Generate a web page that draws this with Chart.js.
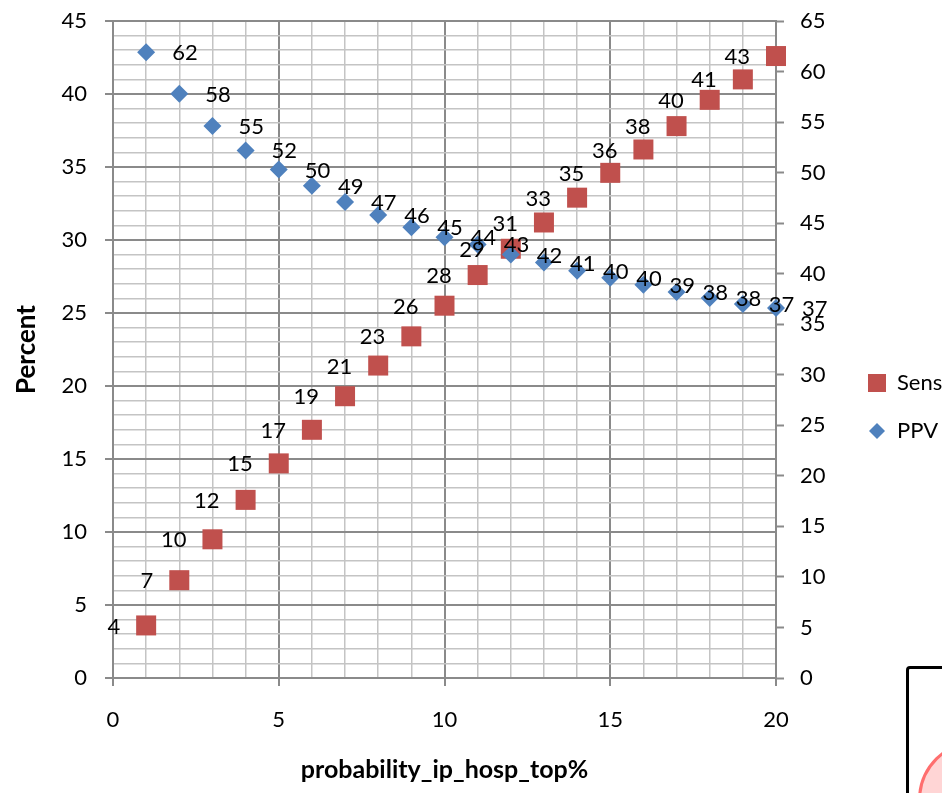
<!DOCTYPE html>
<html>
<head>
<meta charset="utf-8">
<script src="https://cdn.jsdelivr.net/npm/chart.js@4.4.1/dist/chart.umd.min.js"></script>
<style>
  html, body { margin: 0; padding: 0; background: #fff; overflow: hidden; }
  #wrap { position: relative; width: 942px; height: 793px; overflow: hidden; }
  #chart { display: block; }
  #box { position: absolute; left: 906px; top: 666px; width: 80px; height: 200px; border: 3px solid #000; border-radius: 4px; background: #fff; }
  #circle { position: absolute; left: 918px; top: 740px; width: 114px; height: 114px; border-radius: 50%; border: 3px solid #ff6e6e; background: #ffd5d5; }
</style>
</head>
<body>
<div id="wrap">
  <canvas id="chart" width="942" height="793"></canvas>
  <div id="box"></div>
  <div id="circle"></div>
</div>
<script>
// x positions (probability_ip_hosp_top%)
const xValues = [1, 2, 3, 4, 5, 6, 7, 8, 9, 10, 11, 12, 13, 14, 15, 16, 17, 18, 19, 20];
// Sens on the left axis, PPV on the right axis
const sensValues = [3.6, 6.7, 9.5, 12.2, 14.7, 17.0, 19.3, 21.4, 23.4, 25.5, 27.6, 29.4, 31.2, 32.9, 34.6, 36.2, 37.8, 39.6, 41.0, 42.6];
const ppvValues = [61.9, 57.8, 54.6, 52.2, 50.3, 48.7, 47.1, 45.8, 44.6, 43.6, 42.9, 41.9, 41.1, 40.3, 39.6, 38.9, 38.2, 37.6, 37.0, 36.6];

const xTickLabels = [0, 5, 10, 15, 20];
const leftTickLabels = [0, 5, 10, 15, 20, 25, 30, 35, 40, 45];
const rightTickLabels = [0, 5, 10, 15, 20, 25, 30, 35, 40, 45, 50, 55, 60, 65];

const FONT = 'Lato, "Open Sans", sans-serif';
const SENS_COLOR = '#C0504D';
const PPV_COLOR = '#4F81BD';
const MAJOR = '#8a8a8a';
const MINOR = '#c4c4c4';

Chart.defaults.font.family = FONT;
Chart.defaults.font.size = 22;
Chart.defaults.color = '#000';

const isMajor = (list) => (ctx) => list.includes(ctx.tick.value);
const gridColor = (list) => (ctx) => isMajor(list)(ctx) ? MAJOR : MINOR;
const gridWidth = (list) => (ctx) => isMajor(list)(ctx) ? 2 : 1.5;
const tickColor = (list) => (ctx) => isMajor(list)(ctx) ? MAJOR : 'rgba(0,0,0,0)';

function legendIcon(shape, color) {
  const c = document.createElement('canvas');
  c.width = 20; c.height = 20;
  const g = c.getContext('2d');
  g.fillStyle = color;
  if (shape === 'square') {
    g.fillRect(1, 1, 18, 18);
  } else {
    g.beginPath();
    g.moveTo(10, 2); g.lineTo(18, 10); g.lineTo(10, 18); g.lineTo(2, 10);
    g.closePath();
    g.fill();
  }
  return c;
}

// value labels next to each marker
const pointLabels = {
  id: 'pointLabels',
  afterDatasetsDraw(chart) {
    const ctx = chart.ctx;
    ctx.save();
    ctx.font = '22px ' + FONT;
    ctx.fillStyle = '#000';
    ctx.textBaseline = 'middle';
    chart.data.datasets.forEach((ds, i) => {
      const meta = chart.getDatasetMeta(i);
      const onLeft = ds.labelSide === 'left';
      ctx.textAlign = onLeft ? 'right' : 'left';
      meta.data.forEach((pt, j) => {
        const txt = String(Math.round(ds.data[j].y));
        ctx.fillText(txt, pt.x + (onLeft ? -26 : 26), pt.y + 1);
      });
    });
    ctx.restore();
  }
};

const sensData = xValues.map((x, i) => ({ x: x, y: sensValues[i] }));
const ppvData = xValues.map((x, i) => ({ x: x, y: ppvValues[i] }));

// small lineHeight keeps the top tick label from pushing the plot area down
const tickFont = { size: 22, lineHeight: 0.1 };

new Chart(document.getElementById('chart'), {
  type: 'scatter',
  data: {
    datasets: [
      {
        label: 'Sens',
        data: sensData,
        yAxisID: 'y',
        pointStyle: 'rect',
        pointRadius: 14.14,
        backgroundColor: SENS_COLOR,
        borderColor: SENS_COLOR,
        borderWidth: 0,
        labelSide: 'left',
        clip: false,
        order: 2
      },
      {
        label: 'PPV',
        data: ppvData,
        yAxisID: 'y1',
        pointStyle: 'rectRot',
        pointRadius: 9,
        backgroundColor: PPV_COLOR,
        borderColor: PPV_COLOR,
        borderWidth: 0,
        labelSide: 'right',
        clip: false,
        order: 1
      }
    ]
  },
  options: {
    responsive: false,
    animation: false,
    events: [],
    layout: { padding: { top: 21, right: 0, bottom: 0, left: 0 } },
    scales: {
      x: {
        type: 'linear',
        position: 'bottom',
        min: 0,
        max: 20,
        afterFit: (scale) => { scale.height = 115; },
        ticks: {
          stepSize: 1,
          autoSkip: false,
          maxRotation: 0,
          padding: 21,
          callback: (v) => xTickLabels.includes(v) ? String(v) : ''
        },
        grid: {
          color: gridColor(xTickLabels),
          lineWidth: gridWidth(xTickLabels),
          tickColor: tickColor(xTickLabels),
          tickLength: 8,
          tickWidth: 2
        },
        border: { color: MAJOR, width: 2 },
        title: {
          display: true,
          text: 'probability_ip_hosp_top%',
          font: { size: 25, weight: 'bold' },
          padding: { top: 0, bottom: 8 }
        }
      },
      y: {
        type: 'linear',
        position: 'left',
        min: 0,
        max: 45,
        afterFit: (scale) => { scale.width = 113; },
        ticks: {
          stepSize: 1,
          autoSkip: false,
          padding: 18,
          font: tickFont,
          callback: (v) => leftTickLabels.includes(v) ? String(v) : ''
        },
        grid: {
          color: gridColor(leftTickLabels),
          lineWidth: gridWidth(leftTickLabels),
          tickColor: tickColor(leftTickLabels),
          tickLength: 8,
          tickWidth: 2
        },
        border: { color: MAJOR, width: 2 },
        title: {
          display: true,
          text: 'Percent',
          font: { size: 26, weight: 'bold' },
          padding: { top: 11, bottom: 0 }
        }
      },
      y1: {
        type: 'linear',
        position: 'right',
        min: 0,
        max: 65,
        afterFit: (scale) => { scale.width = 66; },
        ticks: {
          stepSize: 5,
          autoSkip: false,
          padding: 16,
          font: tickFont,
          callback: (v) => rightTickLabels.includes(v) ? String(v) : ''
        },
        grid: {
          drawOnChartArea: false,
          color: MAJOR,
          tickColor: MAJOR,
          tickLength: 8,
          tickWidth: 2
        },
        border: { color: MAJOR, width: 2 }
      }
    },
    plugins: {
      tooltip: { enabled: false },
      legend: {
        position: 'right',
        maxWidth: 100,
        labels: {
          usePointStyle: true,
          boxWidth: 18,
          boxHeight: 18,
          padding: 26,
          font: { size: 22 },
          generateLabels: () => [
            { text: 'Sens', pointStyle: legendIcon('square', SENS_COLOR), fillStyle: SENS_COLOR, strokeStyle: SENS_COLOR, lineWidth: 0, hidden: false, datasetIndex: 0 },
            { text: 'PPV', pointStyle: legendIcon('diamond', PPV_COLOR), fillStyle: PPV_COLOR, strokeStyle: PPV_COLOR, lineWidth: 0, hidden: false, datasetIndex: 1 }
          ]
        }
      }
    }
  },
  plugins: [pointLabels]
});
</script>
</body>
</html>
